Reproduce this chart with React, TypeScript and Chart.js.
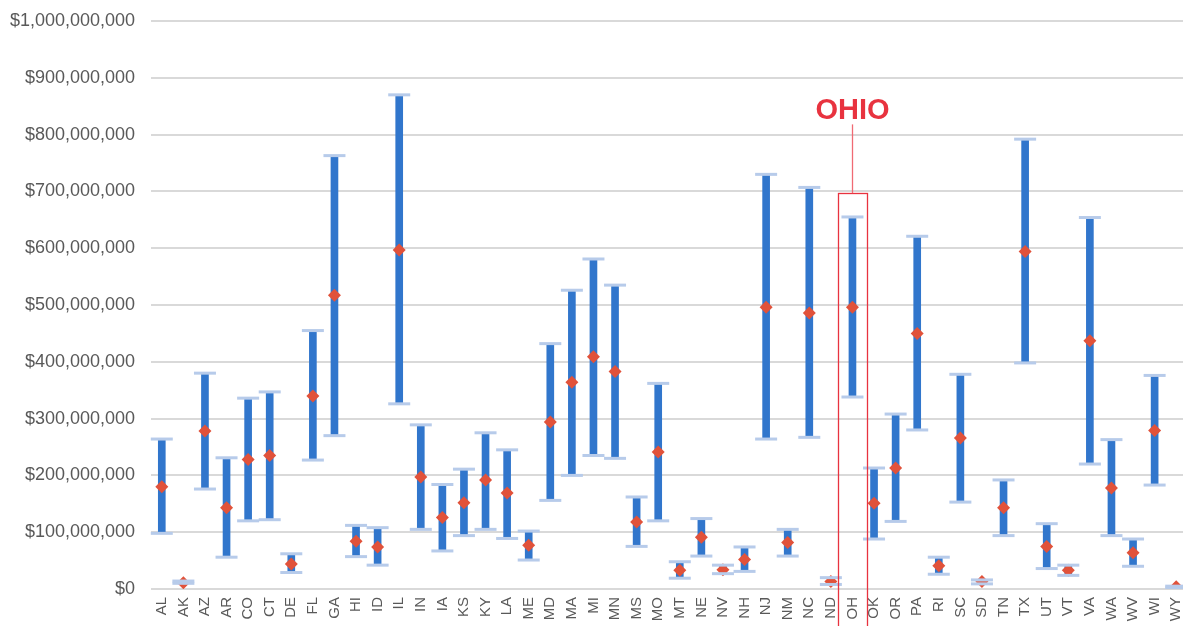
import React, { useEffect, useRef } from "react";
import { Chart, registerables } from "chart.js";

Chart.register(...registerables);

const states = ["AL","AK","AZ","AR","CO","CT","DE","FL","GA","HI","ID","IL","IN","IA","KS","KY","LA","ME","MD","MA","MI","MN","MS","MO","MT","NE","NV","NH","NJ","NM","NC","ND","OH","OK","OR","PA","RI","SC","SD","TN","TX","UT","VT","VA","WA","WV","WI","WY"];

const lowM = [98,10,176,56,120,122,29,227,270,57,42,326,105,67,94,105,89,51,156,200,235,230,75,120,19,58,27,31,264,58,267,8,338,88,119,280,26,153,9,94,398,36,24,220,94,40,183,2];
const highM = [264,14,380,231,336,347,62,455,763,112,108,870,289,184,211,275,245,102,432,526,581,535,162,362,48,124,42,74,730,105,707,20,655,213,308,621,56,378,16,192,792,115,42,654,263,88,376,5];
const midM = [180,11,278,143,228,235,44,340,517,84,74,597,197,126,152,192,169,77,294,364,409,383,118,241,33,91,34,52,496,82,486,13,496,151,213,450,41,266,13,143,594,75,33,437,178,64,279,4];

const yTicksMax = 1000000000;
const yTicksStep = 100000000;

const highlightLabel = "OHIO";
const highlightState = "OH";
const highlightTopM = 697;
const highlightLineTopM = 818;
const highlightTextM = 842;

const M = 1000000;

export default function App() {
  const ref = useRef<HTMLCanvasElement | null>(null);

  useEffect(() => {
    if (!ref.current) return;
    const annot = {
      id: "ohioAnnot",
      afterDatasetsDraw(chart: any) {
        const { ctx, scales } = chart;
        const xs = scales.x;
        const ys = scales.y;
        const idx = states.indexOf(highlightState);
        const cx = xs.getPixelForValue(idx);
        const half = xs.width / states.length * 0.68;
        const top = ys.getPixelForValue(highlightTopM * M);
        const lineTop = ys.getPixelForValue(highlightLineTopM * M);
        const textY = ys.getPixelForValue(highlightTextM * M);
        ctx.save();
        ctx.strokeStyle = "#e8333f";
        ctx.lineWidth = 1.3;
        ctx.strokeRect(Math.round(cx - half) + 0.5, Math.round(top) + 0.5, Math.round(2 * half), chart.height - top + 20);
        ctx.strokeStyle = "#f06a74";
        ctx.beginPath();
        ctx.moveTo(Math.round(cx) + 0.5, lineTop);
        ctx.lineTo(Math.round(cx) + 0.5, top);
        ctx.stroke();
        ctx.fillStyle = "#e8333f";
        ctx.font = "bold 29px 'Liberation Sans', Arial, sans-serif";
        ctx.textAlign = "center";
        ctx.textBaseline = "middle";
        ctx.fillText(highlightLabel, cx, textY);
        ctx.restore();
      },
    };

    const chart = new Chart(ref.current, {
      type: "bar",
      data: {
        labels: states,
        datasets: [
          {
            type: "line",
            label: "High",
            data: highM.map((v) => v * M),
            showLine: false,
            pointStyle: "line",
            pointRadius: 11,
            pointBorderWidth: 3,
            pointBorderColor: "#b7cbea",
            borderColor: "#b7cbea",
            order: 1,
          } as any,
          {
            type: "line",
            label: "Low",
            data: lowM.map((v) => v * M),
            showLine: false,
            pointStyle: "line",
            pointRadius: 11,
            pointBorderWidth: 3,
            pointBorderColor: "#b7cbea",
            borderColor: "#b7cbea",
            order: 1,
          } as any,
          {
            type: "line",
            label: "Mid",
            data: midM.map((v) => v * M),
            showLine: false,
            pointStyle: "rectRot",
            pointRadius: 6.5,
            pointBorderWidth: 0,
            pointBackgroundColor: "#e1523a",
            borderColor: "#e1523a",
            order: 2,
          } as any,
          {
            type: "bar",
            label: "Range",
            data: lowM.map((v, i) => [v * M, highM[i] * M]),
            backgroundColor: "#3176cc",
            borderWidth: 0,
            barThickness: 7,
            order: 3,
          } as any,
        ],
      },
      options: {
        responsive: false,
        animation: false,
        layout: { autoPadding: false, padding: { top: 21, right: 0, left: 0, bottom: 0 } },
        plugins: { legend: { display: false }, tooltip: { enabled: false } },
        scales: {
          x: {
            grid: { display: false, drawTicks: false },
            border: { display: false },
            ticks: {
              color: "#595959",
              font: { family: "'Liberation Sans', Arial, sans-serif", size: 15 },
              minRotation: 90,
              maxRotation: 90,
              autoSkip: false,
              padding: 8,
            },
            afterFit: (s: any) => {
              s.height = 37;
              s.paddingLeft = 0;
              s.paddingRight = 0;
            },
          },
          y: {
            min: 0,
            max: yTicksMax,
            grid: { color: "#d9d9d9", lineWidth: 2, drawTicks: false },
            border: { display: false },
            ticks: {
              stepSize: yTicksStep,
              color: "#595959",
              font: { family: "'Liberation Sans', Arial, sans-serif", size: 18 },
              padding: 16,
              callback: (v: any) => "$" + Number(v).toLocaleString("en-US"),
            },
            afterFit: (s: any) => {
              s.width = 151;
              s.paddingTop = 0;
              s.paddingBottom = 0;
            },
          },
        },
      },
      plugins: [annot],
    });
    return () => chart.destroy();
  }, []);

  return (
    <div style={{ position: "absolute", left: 0, top: 0, width: 1183, height: 626, overflow: "hidden", background: "#fff" }}>
      <canvas ref={ref} width={1187} height={626} style={{ display: "block" }} />
    </div>
  );
}
